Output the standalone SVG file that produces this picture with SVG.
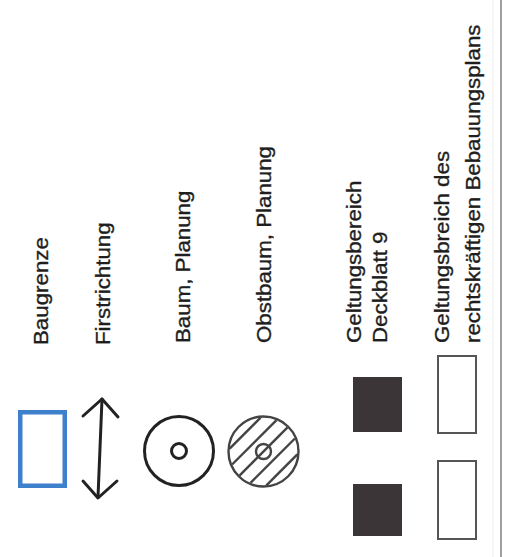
<svg xmlns="http://www.w3.org/2000/svg" width="505" height="557" viewBox="0 0 505 557">
  <style>
    .lbl { font-family: "Liberation Sans", Arial, sans-serif; font-size: 20px; fill: #1e1e1e; stroke: #1e1e1e; stroke-width: 0.35; }
    .sym { fill: none; stroke: #222; stroke-width: 3; stroke-linecap: round; stroke-linejoin: round; }
    .hatch { fill: none; stroke: #444; stroke-width: 2.4; }
    .blk { fill: #3b3537; }
    .wht { fill: #fff; stroke: #555; stroke-width: 2; }
  </style>
  <rect width="505" height="557" fill="#fff"/>

  <g id="baugrenze">
    <rect x="20.25" y="412.25" width="44.5" height="73.5" fill="none" stroke="#3f80cc" stroke-width="4.5"/>
    <text class="lbl" transform="translate(47.5,345) rotate(-90) scale(1.115,1)">Baugrenze</text>
  </g>

  <g id="firstrichtung">
    <polyline class="sym" points="102,399 98,497"/>
    <polyline class="sym" points="83,416 102,399 118,417"/>
    <polyline class="sym" points="83,481 98,498 117,481"/>
    <text class="lbl" transform="translate(109.5,345) rotate(-90) scale(1.115,1)">Firstrichtung</text>
  </g>

  <g id="baum">
    <circle class="sym" cx="179" cy="451" r="34.5"/>
    <circle class="sym" cx="179" cy="451" r="7.5"/>
    <text class="lbl" transform="translate(190,343) rotate(-90) scale(1.115,1)">Baum, Planung</text>
  </g>

  <g id="obstbaum">
    <g transform="translate(263.5,451.5) rotate(-45)">
      <line class="hatch" x1="-34" y1="0" x2="34" y2="0"/>
      <line class="hatch" x1="-31.4" y1="-13" x2="31.4" y2="-13"/>
      <line class="hatch" x1="-31.4" y1="13" x2="31.4" y2="13"/>
      <line class="hatch" x1="-21.9" y1="-26" x2="21.9" y2="-26"/>
      <line class="hatch" x1="-21.9" y1="26" x2="21.9" y2="26"/>
    </g>
    <circle class="hatch" cx="263.5" cy="451.5" r="35"/>
    <circle class="hatch" cx="263.5" cy="451.5" r="7.5" fill="#bbb"/>
    <text class="lbl" transform="translate(270.5,343) rotate(-90) scale(1.115,1)">Obstbaum, Planung</text>
  </g>

  <g id="geltungsbereich-deckblatt">
    <rect class="blk" x="353" y="377" width="49" height="55"/>
    <rect class="blk" x="353" y="484" width="49" height="52"/>
    <text class="lbl" transform="translate(360.5,343) rotate(-90) scale(1.115,1)">Geltungsbereich</text>
    <text class="lbl" transform="translate(387,343) rotate(-90) scale(1.115,1)">Deckblatt 9</text>
  </g>

  <g id="geltungsbereich-rechtskraeftig">
    <rect class="wht" x="438" y="356" width="38" height="77"/>
    <rect class="wht" x="438" y="461" width="38" height="78"/>
    <text class="lbl" transform="translate(448.5,343) rotate(-90) scale(1.115,1)">Geltungsbreich des</text>
    <text class="lbl" transform="translate(480,343) rotate(-90) scale(1.115,1)">rechtskräftigen Bebauungsplans</text>
  </g>

  <g id="frame">
    <line x1="493" y1="0" x2="493" y2="557" stroke="#eeeeee" stroke-width="1"/>
    <line x1="501" y1="0" x2="501" y2="557" stroke="#888" stroke-width="1.6"/>
  </g>
</svg>
